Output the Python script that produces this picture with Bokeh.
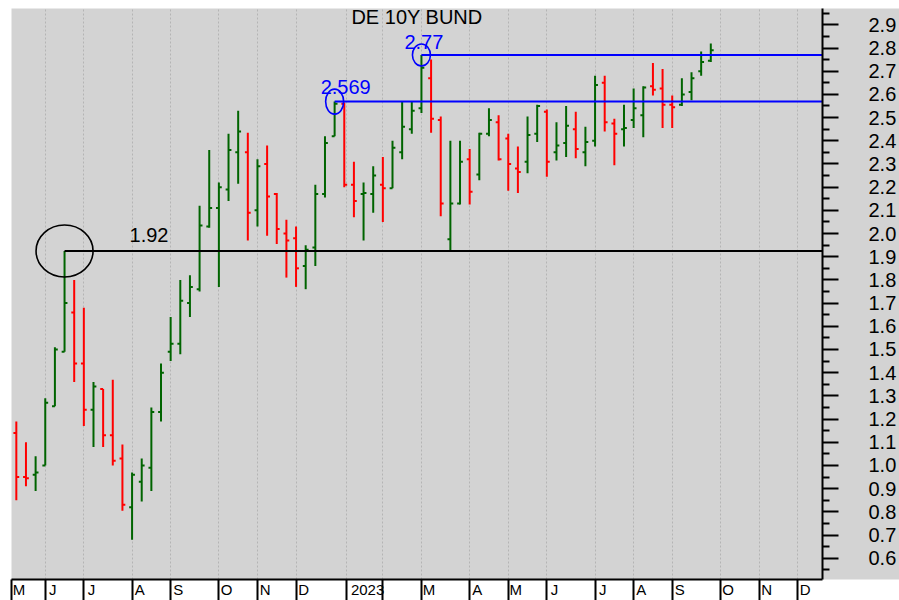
import numpy as np
from bokeh.plotting import figure
from bokeh.models import Range1d, FixedTicker, Label, ColumnDataSource
from bokeh.core.properties import value
from bokeh.embed import file_html
from bokeh.resources import INLINE

# Weekly OHLC of the German 10Y Bund yield (bar index 0 = mid-May 2022)
opens = [1.14, 0.95, 0.96, 1.00, 1.255, 1.49, 1.66, 1.44, 1.24, 1.33,
         1.13, 1.03, 0.82, 0.93, 0.99, 1.23, 1.49, 1.525, 1.70, 1.76,
         2.03, 2.11, 2.19, 2.35, 2.35, 2.10, 2.30, 2.17, 2.00, 1.98,
         1.86, 1.94, 2.17, 2.42, 2.56, 2.21, 2.17, 2.17, 2.21, 2.195,
         2.35, 2.45, 2.54, 2.67, 2.49, 1.975, 2.13, 2.32, 2.255, 2.43,
         2.48, 2.41, 2.28, 2.31, 2.43, 2.525, 2.35, 2.39, 2.45, 2.35,
         2.40, 2.65, 2.475, 2.45, 2.49, 2.51, 2.635, 2.625, 2.555, 2.555,
         2.61, 2.70, 2.745]
highs = [1.19, 1.10, 1.04, 1.29, 1.51, 1.925, 1.80, 1.68, 1.36, 1.33,
         1.37, 1.09, 0.97, 1.03, 1.25, 1.44, 1.64, 1.80, 1.82, 2.12,
         2.36, 2.22, 2.43, 2.53, 2.435, 2.32, 2.38, 2.175, 2.06, 2.03,
         1.95, 2.21, 2.42, 2.569, 2.565, 2.31, 2.22, 2.29, 2.33, 2.40,
         2.57, 2.57, 2.77, 2.75, 2.505, 2.40, 2.40, 2.365, 2.435, 2.54,
         2.51, 2.43, 2.375, 2.505, 2.555, 2.535, 2.48, 2.55, 2.525, 2.46,
         2.68, 2.68, 2.495, 2.555, 2.625, 2.635, 2.735, 2.71, 2.595, 2.67,
         2.695, 2.785, 2.82]
lows = [0.85, 0.91, 0.89, 1.00, 1.255, 1.49, 1.36, 1.17, 1.08, 1.08,
        1.00, 0.805, 0.68, 0.845, 0.89, 1.19, 1.45, 1.48, 1.64, 1.75,
        2.025, 1.77, 2.14, 2.215, 1.97, 2.03, 1.99, 1.955, 1.81, 1.77,
        1.76, 1.86, 2.155, 2.42, 2.20, 2.07, 1.97, 2.09, 2.05, 2.195,
        2.32, 2.43, 2.52, 2.435, 2.075, 1.925, 2.125, 2.125, 2.23, 2.42,
        2.315, 2.185, 2.175, 2.26, 2.395, 2.245, 2.315, 2.33, 2.325, 2.29,
        2.375, 2.44, 2.295, 2.375, 2.455, 2.415, 2.595, 2.455, 2.455, 2.55,
        2.575, 2.68, 2.74]
closes = [0.95, 0.945, 0.97, 1.27, 1.50, 1.70, 1.44, 1.24, 1.34, 1.13,
          1.02, 0.83, 0.96, 1.00, 1.23, 1.40, 1.525, 1.71, 1.77, 2.035,
          2.11, 2.20, 2.36, 2.44, 2.09, 2.29, 2.16, 2.02, 1.97, 1.85,
          1.93, 2.17, 2.39, 2.56, 2.21, 2.14, 2.175, 2.25, 2.195, 2.37,
          2.46, 2.53, 2.715, 2.495, 2.13, 2.13, 2.31, 2.18, 2.43, 2.49,
          2.32, 2.30, 2.265, 2.425, 2.55, 2.31, 2.38, 2.465, 2.365, 2.395,
          2.64, 2.48, 2.43, 2.455, 2.54, 2.63, 2.62, 2.555, 2.545, 2.60,
          2.67, 2.74, 2.79]

# Month separators (bar index of first week of each month) and their labels
month_pos = [-0.5, 3, 7, 12, 16, 21, 25, 29, 34.2, 38, 42, 47, 51, 55, 60, 64, 68, 73, 77, 81]
month_labels = ["M", "J", "J", "A", "S", "O", "N", "D", "2023", "", "M", "A", "M", "J", "J",
                "A", "S", "O", "N", "D"]

# Right axis ticks
y_ticks = [0.5, 0.6, 0.7, 0.8, 0.9, 1.0, 1.1, 1.2, 1.3, 1.4, 1.5, 1.6, 1.7, 1.8, 1.9,
           2.0, 2.1, 2.2, 2.3, 2.4, 2.5, 2.6, 2.7, 2.8, 2.9]
y_tick_labels = ["", "0.6", "0.7", "0.8", "0.9", "1.0", "1.1", "1.2", "1.3", "1.4", "1.5",
                 "1.6", "1.7", "1.8", "1.9", "2.0", "2.1", "2.2", "2.3", "2.4", "2.5",
                 "2.6", "2.7", "2.8", "2.9"]
y_minor = [round(t + 0.05, 2) for t in y_ticks]

# Marked levels
level_values = [1.925, 2.569, 2.77]
level_bars = [5, 33, 42]
level_texts = ["1.92", "2.569", "2.77"]
level_colors = ["black", "blue", "blue"]

title_text = "DE 10Y BUND"

FONT = "Liberation Sans"
GREEN = "#006400"
RED = "#ff0000"
BG = "#d3d3d3"

W, H = 899, 600
BL, BT, BR, BB = 11, 8, 76, 18
AXIS_H = 22   # actual height the bottom axis takes
x_start, x_end = -0.5, 83.58
y_end = 2.9704
px_per_unit_y = 231.5
y_start = y_end - (H - BT - AXIS_H) / px_per_unit_y
px_per_bar = (W - BL - BR) / (x_end - x_start)

p = figure(width=W, height=H,
           x_range=Range1d(x_start, x_end), y_range=Range1d(y_start, y_end),
           y_axis_location="right", output_backend="svg", toolbar_location=None,
           min_border_left=BL, min_border_top=BT, min_border_right=BR, min_border_bottom=BB,
           background_fill_color=BG, border_fill_color="white",
           outline_line_color=None)

# grids
p.ygrid.grid_line_color = None
p.xgrid.ticker = FixedTicker(ticks=month_pos)
p.xgrid.grid_line_color = "#b4b4b4"
p.xgrid.grid_line_dash = "2 2"
p.xgrid.grid_line_width = 1

# OHLC bars
idx = np.arange(len(opens))
o = np.array(opens); h = np.array(highs); l = np.array(lows); c = np.array(closes)
colors = [GREEN if cc >= oo else RED for oo, cc in zip(opens, closes)]
tick = 0.3
src = ColumnDataSource(dict(x=idx, xl=idx - tick, xr=idx + tick, o=o, h=h, l=l, c=c, color=colors))
p.segment(x0="x", y0="l", x1="x", y1="h", line_color="color", line_width=2, source=src)
p.segment(x0="xl", y0="o", x1="x", y1="o", line_color="color", line_width=2, source=src)
p.segment(x0="x", y0="c", x1="xr", y1="c", line_color="color", line_width=2, source=src)

# levels
lsrc = ColumnDataSource(dict(x=level_bars, y=level_values, text=level_texts, color=level_colors,
                             w=[57, 18, 18], hgt=[52, 25, 22],
                             xo=[65, -14, -17], yo=[-16, -15, -13]))
p.ray(x="x", y="y", length=0, angle=0, line_color="color", line_width=2, source=lsrc)
p.ellipse(x="x", y="y", width="w", height="hgt", width_units="screen", height_units="screen",
          fill_color=None, line_color="color", line_width=1.6, source=lsrc)
p.text(x="x", y="y", text="text", x_offset="xo", y_offset="yo", text_color="color",
       text_font=value(FONT), text_font_size=value("20px"), text_baseline="alphabetic",
       text_align="left", source=lsrc)

# title inside the plot
p.add_layout(Label(x=(x_start + x_end) / 2, y=y_end, text=title_text, text_align="center",
                   text_baseline="top", y_offset=3, text_font=FONT, text_font_size="20px",
                   text_color="black"))

# right axis
ya = p.yaxis[0]
ya.ticker = FixedTicker(ticks=y_ticks, minor_ticks=y_minor)
ya.major_label_overrides = {t: s for t, s in zip(y_ticks, y_tick_labels)}
ya.axis_line_width = 2
ya.axis_line_color = "black"
ya.major_tick_out = 16
ya.major_tick_in = 0
ya.minor_tick_out = 7
ya.minor_tick_in = 0
ya.major_tick_line_width = 2
ya.minor_tick_line_width = 2
ya.major_label_standoff = 30
ya.major_label_text_font = FONT
ya.major_label_text_font_size = "20px"
ya.major_label_text_color = "black"
ya.background_fill_color = BG

# bottom axis: separators as minor ticks, month names as major labels just right of them
label_pos, label_txt = [], []
for pos, txt in zip(month_pos, month_labels):
    if txt:
        label_pos.append(pos + (3 + 4.6 * len(txt)) / px_per_bar)
        label_txt.append(txt)
xa = p.xaxis[0]
xa.ticker = FixedTicker(ticks=label_pos, minor_ticks=month_pos)
xa.major_label_overrides = {t: s for t, s in zip(label_pos, label_txt)}
xa.axis_line_width = 2
xa.major_tick_out = 0
xa.major_tick_in = 0
xa.minor_tick_out = AXIS_H
xa.minor_tick_in = 0
xa.minor_tick_line_width = 2
xa.minor_tick_line_color = "black"
xa.major_label_standoff = -21
xa.major_label_text_font = FONT
xa.major_label_text_font_size = "15px"
xa.major_label_text_color = "black"

open("out.html", "w").write(file_html(p, INLINE))
